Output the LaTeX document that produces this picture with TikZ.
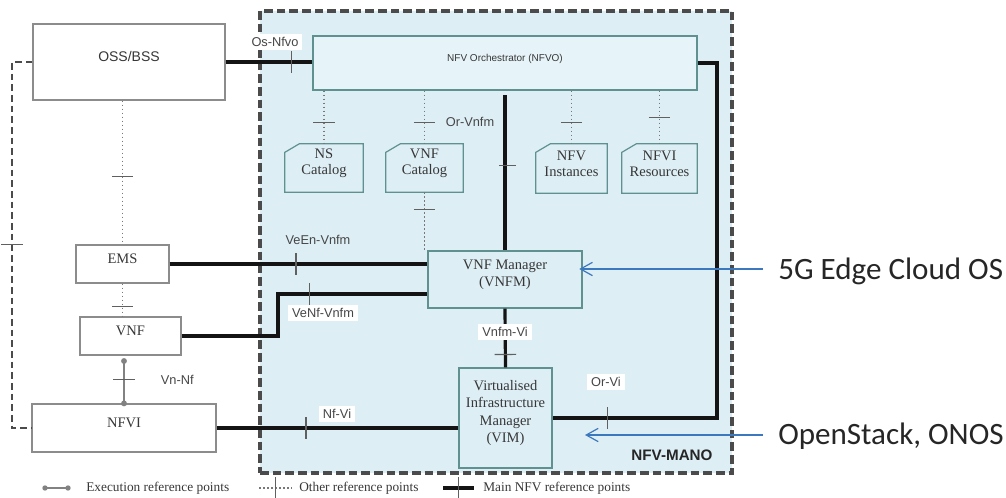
\documentclass[tikz,border=0pt]{standalone}
\usepackage{fontspec}
\setmainfont{Liberation Serif}
\setsansfont{Liberation Sans}
\newfontfamily\califont{Carlito}
\usetikzlibrary{fit,arrows.meta,decorations.markings}
\definecolor{manobg}{RGB}{221,238,245}
\definecolor{nfvobg}{RGB}{230,243,248}
\definecolor{manoborder}{RGB}{75,75,75}
\definecolor{tealline}{RGB}{95,145,145}
\definecolor{boxgray}{RGB}{140,140,140}
\definecolor{mainline}{RGB}{20,20,20}
\definecolor{dotgray}{RGB}{120,120,120}
\definecolor{txtgray}{RGB}{55,55,55}
\definecolor{labgray}{RGB}{70,70,70}
\definecolor{arrowblue}{RGB}{60,120,190}
\definecolor{execgray}{RGB}{130,130,130}
\newcommand\myserif{\fontsize{10.9}{12.6}\selectfont}
\newcommand\mylab{\sffamily\fontsize{9.6}{11}\selectfont}
\begin{document}
\begin{tikzpicture}[x=0.75pt,y=-0.75pt,
  outbox/.style={draw=boxgray, line width=0.9pt, fill=white, inner sep=0pt, font=\myserif, text=txtgray, align=center},
  manobox/.style={draw=tealline, line width=0.9pt, fill=manobg, inner sep=0pt, font=\myserif, text=txtgray, align=center},
  catbox/.style={inner sep=0pt, font=\myserif, text=txtgray, align=center},
  catline/.style={draw=tealline, line width=0.9pt},
  mainln/.style={draw=mainline, line width=2.4pt},
  otherln/.style={draw=dotgray, line width=0.9pt, dash pattern=on 1.4pt off 1.6pt},
  execln/.style={draw=execgray, line width=1.4pt},
  execdot/.style={fill=execgray},
  tickat/.style={postaction={decorate,decoration={markings,mark=at position #1 with {\draw[solid, line width=0.9pt, draw=dotgray!80!black] (0,-8pt) -- (0,8pt);}}}},
  lbl/.style={font=\mylab, text=labgray, inner sep=2pt},
  lblw/.style={lbl, fill=white, inner xsep=3pt, inner ysep=2.5pt},
  legend/.style={font=\fontsize{10}{12}\selectfont, text=txtgray, inner sep=0pt, anchor=west},
  bluearr/.style={draw=arrowblue, line width=0.9pt, -{Straight Barb[length=9pt,width=10pt]}},
  bigtxt/.style={font=\califont\fontsize{23.3}{27}\selectfont, text=black!85, inner sep=0pt, anchor=base west}
]
\useasboundingbox (0,0) rectangle (1006,498);

% NFV-MANO frame
\node[fit={(260,11)(732,473)}, inner sep=0pt, draw=manoborder, line width=2.3pt, dash pattern=on 6.5pt off 3pt, fill=manobg] (mano) {};
\node[font=\sffamily\bfseries\fontsize{11.4}{13}\selectfont, text=black!85] (manolbl) at (672,455) {NFV-MANO};

% boxes outside
\node[outbox, fit={(33,24)(225,100)}, font=\sffamily\fontsize{10.5}{12}\selectfont] (oss) {OSS/BSS};
\node[outbox, fit={(76,245)(169,283)}] (ems) {EMS};
\node[outbox, fit={(80,317)(181,355)}] (vnf) {VNF};
\node[outbox, fit={(32,404)(216,452)}] (nfvi) {NFVI};

% boxes inside
\node[manobox, fill=nfvobg, fit={(313,36)(697,90)}, font=\sffamily\fontsize{7.5}{9}\selectfont] (nfvo) {NFV Orchestrator (NFVO)};
\node[catbox, fit={(285,144)(363,192)}] (ns) {NS\\Catalog};
\node[catbox, fit={(386,144)(463,192)}] (vnfc) {VNF\\Catalog};
\node[catbox, fit={(536,144)(607,193)}] (nfvinst) {NFV\\Instances};
\node[catbox, fit={(622,144)(697,193)}] (nfvires) {NFVI\\Resources};
\foreach \c in {ns,vnfc,nfvinst,nfvires}{
  \draw[catline] (\c.south west) -- ([yshift=-6.5pt]\c.north west) -- ([xshift=11pt]\c.north west) -- (\c.north east) -- (\c.south east) -- cycle;
}
\node[manobox, fit={(428,251)(582,308)}] (vnfm) {VNF Manager\\(VNFM)};
\node[manobox, fit={(459,368)(552,468)}, font=\fontsize{10.9}{13}\selectfont] (vim) {Virtualised\\Infrastructure\\Manager\\(VIM)};

% other reference points (dotted)
\draw[otherln, tickat=0.6] (ns.north |- nfvo.south) -- (ns.north);
\draw[otherln, tickat=0.6] (vnfc.north |- nfvo.south) -- (vnfc.north);
\draw[otherln, tickat=0.6] (nfvinst.north |- nfvo.south) -- (nfvinst.north);
\draw[otherln, tickat=0.5] (nfvires.north |- nfvo.south) -- (nfvires.north);
\draw[otherln, tickat=0.29] (vnfc.south) -- (vnfc.south |- vnfm.north);
\draw[otherln, tickat=0.53] (ems.north |- oss.south) -- (ems.north);
\draw[otherln, tickat=0.7] (ems.south) -- (ems.south |- vnf.north);

% left dashed line OSS/BSS - NFVI
\coordinate (lft) at (12,250);
\draw[draw=manoborder, line width=1.8pt, dash pattern=on 5pt off 3pt, tickat=0.5] (oss.west) -| (lft) |- (nfvi.west);

% execution reference point
\coordinate (extop) at (124,361);
\draw[execln, tickat=0.43] (extop) -- (extop |- nfvi.north);
\fill[execdot] (extop) circle (2.2pt);
\fill[execdot] (extop |- nfvi.north) circle (2.2pt);
\node[lbl, anchor=west] (vnnf) at (158,380) {Vn-Nf};

% main reference points
\draw[mainln, tickat=0.76] (oss.east) -- (oss.east -| nfvo.west);
\draw[mainln, tickat=0.47, shorten <=3.5pt] (vnfm.north |- nfvo.south) -- (vnfm.north);
\coordinate (orvi) at (717,418);
\draw[mainln, tickat=0.898] (nfvo.east) -| (orvi) -- (orvi -| vim.east);
\draw[mainln, tickat=0.49] (ems.east) -- (ems.east -| vnfm.west);
\coordinate (vnfstep) at (278,294);
\draw[mainln, tickat=0.59] (vnf.east) -| (vnfstep) -- (vnfstep -| vnfm.west);
\draw[mainln, tickat=0.37] (nfvi.east) -- (nfvi.east -| vim.west);
\draw[mainln, tickat=0.78] (vnfm.south) -- (vim.north);

% labels
\node[lblw] (osnfvo) at (275,42) {Os-Nfvo};
\node[lbl] (orvnfm) at (470,122) {Or-Vnfm};
\node[lbl] (veen) at (318,240) {VeEn-Vnfm};
\node[lblw] (venf) at (323,313) {VeNf-Vnfm};
\node[lblw] (nfvilbl) at (337,414) {Nf-Vi};
\node[lblw] (vnfmvi) at (505,332) {Vnfm-Vi};
\node[lblw] (orvilbl) at (606,382) {Or-Vi};

% right annotations
\node[bigtxt] (edgeos) at (778,280) {5G Edge Cloud OS};
\node[bigtxt] (openstack) at (778,445) {OpenStack, ONOS};
\coordinate (a1s) at (763,269);
\coordinate (a2s) at (763,435);
\coordinate (a2e) at (585,435);
\draw[bluearr, shorten >=-2.5pt] (a1s) -- (a1s -| vnfm.east);
\draw[bluearr] (a2s) -- (a2e);

% legend
\coordinate (l1a) at (45,488); \coordinate (l1b) at (68,488);
\draw[execln] (l1a) -- (l1b);
\fill[execdot] (l1a) circle (2pt);
\fill[execdot] (l1b) circle (2pt);
\node[legend] (l1t) at (86,488) {Execution reference points};
\coordinate (l2a) at (259,488); \coordinate (l2b) at (292,488);
\draw[otherln, tickat=0.5] (l2a) -- (l2b);
\node[legend] (l2t) at (299,488) {Other reference points};
\coordinate (l3a) at (443,488); \coordinate (l3b) at (474,488);
\draw[mainln, tickat=0.5] (l3a) -- (l3b);
\node[legend] (l3t) at (483,488) {Main NFV reference points};
\end{tikzpicture}
\end{document}
